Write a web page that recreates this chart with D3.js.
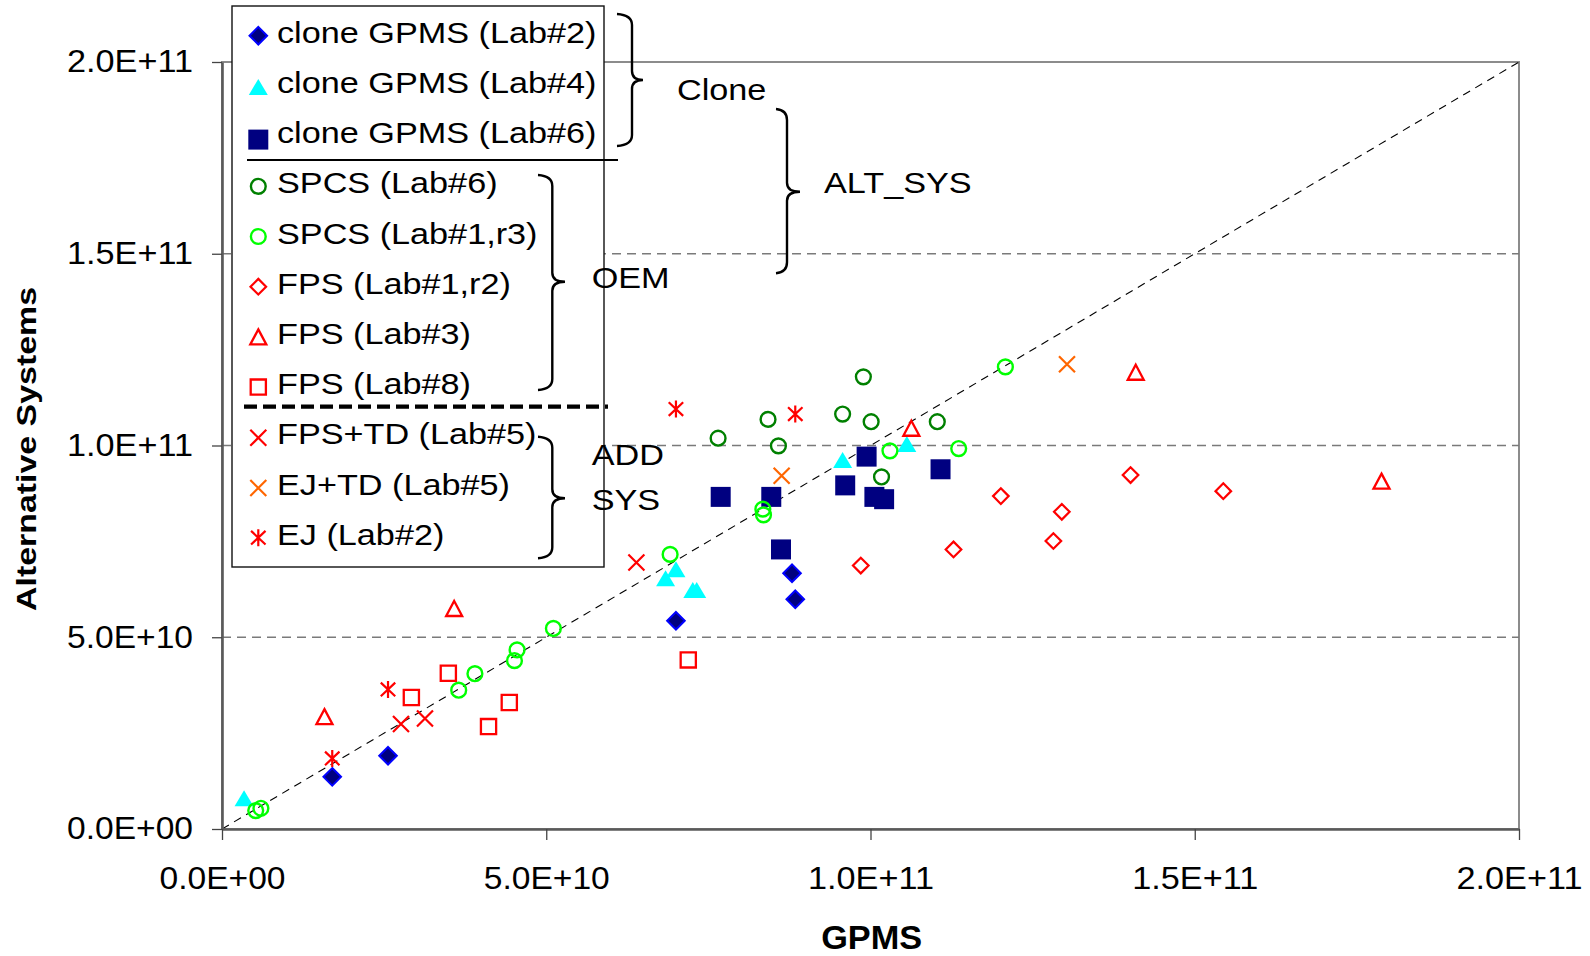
<!DOCTYPE html>
<html>
<head>
<meta charset="utf-8">
<script src="https://cdn.jsdelivr.net/npm/d3@7"></script>
<style>
  html, body { margin: 0; padding: 0; background: #fff; }
  svg { display: block; }
  text { font-family: "Liberation Sans", Arial, sans-serif; fill: #000; }
</style>
</head>
<body>
<svg id="chart" width="1590" height="956"></svg>
<script>
// ---- data: [GPMS, alternative system] pairs ----
const cloneGpmsLab2 = [[1.70e10, 1.36e10], [2.56e10, 1.91e10], [7.00e10, 5.43e10], [8.79e10, 6.67e10], [8.84e10, 5.99e10]];
const cloneGpmsLab4 = [[0.34e10, 0.80e10], [6.84e10, 6.54e10], [7.00e10, 6.77e10], [7.26e10, 6.23e10], [7.32e10, 6.23e10], [9.57e10, 9.62e10], [10.56e10, 10.04e10]];
const cloneGpmsLab6 = [[7.69e10, 8.66e10], [8.47e10, 8.66e10], [8.62e10, 7.29e10], [9.61e10, 8.96e10], [9.94e10, 9.71e10], [10.06e10, 8.66e10], [10.21e10, 8.60e10], [11.08e10, 9.38e10]];
const spcsLab6 = [[7.65e10, 10.19e10], [8.42e10, 10.68e10], [8.58e10, 9.99e10], [9.89e10, 11.79e10], [9.57e10, 10.82e10], [10.01e10, 10.62e10], [11.03e10, 10.62e10], [10.17e10, 9.18e10]];
const spcsLab1r3 = [[0.52e10, 0.48e10], [0.60e10, 0.54e10], [3.65e10, 3.62e10], [3.90e10, 4.05e10], [4.51e10, 4.39e10], [4.55e10, 4.67e10], [5.11e10, 5.23e10], [6.91e10, 7.16e10], [8.34e10, 8.34e10], [8.35e10, 8.19e10], [10.30e10, 9.86e10], [11.36e10, 9.92e10], [12.08e10, 12.05e10]];
const fpsLab1r2 = [[9.85e10, 6.87e10], [11.28e10, 7.29e10], [12.01e10, 8.68e10], [12.95e10, 8.27e10], [12.82e10, 7.51e10], [14.01e10, 9.23e10], [15.44e10, 8.81e10]];
const fpsLab3 = [[1.58e10, 2.93e10], [3.58e10, 5.75e10], [10.63e10, 10.45e10], [14.09e10, 11.91e10], [17.88e10, 9.07e10]];
const fpsLab8 = [[3.49e10, 4.06e10], [2.92e10, 3.43e10], [4.43e10, 3.30e10], [4.11e10, 2.67e10], [7.19e10, 4.41e10]];
const fpsTdLab5 = [[2.76e10, 2.74e10], [3.13e10, 2.88e10], [6.39e10, 6.95e10]];
const ejTdLab5 = [[8.63e10, 9.21e10], [13.03e10, 12.12e10]];
const ejLab2 = [[1.70e10, 1.84e10], [2.56e10, 3.64e10], [7.00e10, 10.95e10], [8.84e10, 10.82e10]];

const seriesNames = [
  "clone GPMS (Lab#2)", "clone GPMS (Lab#4)", "clone GPMS (Lab#6)",
  "SPCS (Lab#6)", "SPCS (Lab#1,r3)", "FPS (Lab#1,r2)", "FPS (Lab#3)", "FPS (Lab#8)",
  "FPS+TD (Lab#5)", "EJ+TD (Lab#5)", "EJ (Lab#2)"
];
const seriesValues = [
  cloneGpmsLab2, cloneGpmsLab4, cloneGpmsLab6,
  spcsLab6, spcsLab1r3, fpsLab1r2, fpsLab3, fpsLab8,
  fpsTdLab5, ejTdLab5, ejLab2
];

const axisDomain = [0, 2e11];
const tickValues = [0, 5e10, 1e11, 1.5e11, 2e11];
const tickLabels = ["0.0E+00", "5.0E+10", "1.0E+11", "1.5E+11", "2.0E+11"];
const gridValues = [5e10, 1e11, 1.5e11];

// ---- marker shapes (centred on 0,0) ----
const shape = {
  diamond: s => `M0,${-s}L${s},0L0,${s}L${-s},0Z`,
  triangle: (w, h) => `M0,${-h / 2}L${w / 2},${h / 2}L${-w / 2},${h / 2}Z`,
  square: s => `M${-s},${-s}H${s}V${s}H${-s}Z`,
  circle: r => `M${r},0A${r},${r} 0 1,1 ${-r},0A${r},${r} 0 1,1 ${r},0Z`,
  cross: s => `M${-s},${-s}L${s},${s}M${-s},${s}L${s},${-s}`,
  star: s => `M0,${-s}V${s}M${-s * 0.85},${-s * 0.8}L${s * 0.85},${s * 0.8}M${-s * 0.85},${s * 0.8}L${s * 0.85},${-s * 0.8}`
};

const markerStyles = [
  { d: shape.diamond(8.8), fill: "#000080", stroke: "#0000ff", sw: 2, ly: -7 },
  { d: shape.triangle(19, 16), fill: "#00ffff", stroke: "none", sw: 0, ly: -6 },
  { d: shape.square(10), fill: "#000080", stroke: "none", sw: 0, ly: -3.5 },
  { d: shape.circle(7.4), fill: "none", stroke: "#008000", sw: 2.4, ly: -7 },
  { d: shape.circle(7.4), fill: "none", stroke: "#00ff00", sw: 2.4, ly: -7 },
  { d: shape.diamond(7.8), fill: "none", stroke: "#ff0000", sw: 2.2, ly: -7 },
  { d: shape.triangle(16, 15), fill: "none", stroke: "#ff0000", sw: 2.3, ly: -7 },
  { d: shape.square(7.6), fill: "none", stroke: "#ff0000", sw: 2.3, ly: -7 },
  { d: shape.cross(8), fill: "none", stroke: "#ff0000", sw: 2.2, ly: -6.5 },
  { d: shape.cross(8), fill: "none", stroke: "#ff6600", sw: 2.2, ly: -6.5 },
  { d: shape.star(8.5), fill: "none", stroke: "#ff0000", sw: 2.2, ly: -7 }
];

// ---- layout ----
const svg = d3.select("#chart");
const plot = { left: 222, right: 1519, top: 62, bottom: 829 };
const x = d3.scaleLinear().domain(axisDomain).range([plot.left, plot.right]);
const y = d3.scaleLinear().domain(axisDomain).range([plot.bottom, plot.top]);

// plot frame
svg.append("rect")
  .attr("x", plot.left).attr("y", plot.top)
  .attr("width", plot.right - plot.left).attr("height", plot.bottom - plot.top)
  .attr("fill", "#fff").attr("stroke", "#8c8c8c").attr("stroke-width", 2);

// horizontal gridlines
svg.append("g").selectAll("line").data(gridValues).join("line")
  .attr("x1", x(0)).attr("x2", x(2e11))
  .attr("y1", d => y(d)).attr("y2", d => y(d))
  .attr("stroke", "#7a7a7a").attr("stroke-width", 1.6)
  .attr("stroke-dasharray", "9,6");

// y = x reference line
svg.append("line")
  .attr("x1", x(0)).attr("y1", y(0)).attr("x2", x(2e11)).attr("y2", y(2e11))
  .attr("stroke", "#000").attr("stroke-width", 1.1)
  .attr("stroke-dasharray", "8,6");

// axes
const fmt = d => tickLabels[tickValues.indexOf(d)];
const yAxis = svg.append("g").attr("transform", `translate(${plot.left},0)`)
  .call(d3.axisLeft(y).tickValues(tickValues).tickFormat(fmt).tickSizeInner(10).tickSizeOuter(0).tickPadding(19));
const xAxis = svg.append("g").attr("transform", `translate(0,${plot.bottom})`)
  .call(d3.axisBottom(x).tickValues(tickValues).tickFormat(fmt).tickSizeInner(11).tickSizeOuter(0).tickPadding(27));
[xAxis, yAxis].forEach(g => {
  g.select(".domain").attr("stroke", "#5a5a5a").attr("stroke-width", 2.6);
  g.selectAll(".tick line").attr("stroke", "#444").attr("stroke-width", 1.3);
  g.selectAll(".tick text")
    .attr("font-size", 31).attr("font-family", "Liberation Sans, Arial, sans-serif")
    .attr("fill", "#000")
    .attr("textLength", 126).attr("lengthAdjust", "spacingAndGlyphs");
});

// axis titles
svg.append("text")
  .attr("x", 871.7).attr("y", 948.5)
  .attr("text-anchor", "middle").attr("font-weight", "bold").attr("font-size", 33)
  .attr("textLength", 101).attr("lengthAdjust", "spacingAndGlyphs")
  .text("GPMS");
svg.append("text")
  .attr("transform", "translate(36,449) rotate(-90)")
  .attr("text-anchor", "middle").attr("font-weight", "bold").attr("font-size", 27)
  .attr("textLength", 324).attr("lengthAdjust", "spacingAndGlyphs")
  .text("Alternative Systems");

// data markers, one group per series
const seriesGroups = svg.append("g").selectAll("g")
  .data(seriesValues.map((vals, i) => ({ vals, style: markerStyles[i] })))
  .join("g");
seriesGroups.selectAll("path")
  .data(s => s.vals.map(v => ({ v, style: s.style })))
  .join("path")
  .attr("transform", d => `translate(${x(d.v[0])},${y(d.v[1])})`)
  .attr("d", d => d.style.d)
  .attr("fill", d => d.style.fill)
  .attr("stroke", d => d.style.stroke)
  .attr("stroke-width", d => d.style.sw)
  .attr("stroke-linejoin", "miter");

// ---- legend ----
const legend = svg.append("g");
legend.append("rect")
  .attr("x", 232).attr("y", 6).attr("width", 372).attr("height", 561)
  .attr("fill", "#fff").attr("stroke", "#111").attr("stroke-width", 1.4);

const rowBase = 42.7, rowStep = 50.2;
const rows = legend.selectAll("g.row")
  .data(seriesNames.map((name, i) => ({ name, style: markerStyles[i], i })))
  .join("g").attr("class", "row");
rows.append("path")
  .attr("transform", d => `translate(258.3,${rowBase + d.i * rowStep + d.style.ly})`)
  .attr("d", d => d.style.d)
  .attr("fill", d => d.style.fill)
  .attr("stroke", d => d.style.stroke)
  .attr("stroke-width", d => d.style.sw);
rows.append("text")
  .attr("transform", d => `translate(277,${rowBase + d.i * rowStep}) scale(1.18,1)`)
  .attr("font-size", 29)
  .text(d => d.name);

// separators between groups
legend.append("line")
  .attr("x1", 247).attr("x2", 618).attr("y1", 160).attr("y2", 160)
  .attr("stroke", "#000").attr("stroke-width", 2);
legend.append("line")
  .attr("x1", 244).attr("x2", 608).attr("y1", 406.7).attr("y2", 406.7)
  .attr("stroke", "#000").attr("stroke-width", 4.2)
  .attr("stroke-dasharray", "13,6");

// curly braces grouping the legend rows
function brace(x0, xv, xt, y0, yt, y1) {
  const r = 11, rt = 9;
  return `M${x0},${y0}Q${xv},${y0 + 1} ${xv},${y0 + r}` +
    `L${xv},${yt - rt}Q${xv},${yt} ${xt},${yt}` +
    `Q${xv},${yt} ${xv},${yt + rt}` +
    `L${xv},${y1 - r}Q${xv},${y1 - 1} ${x0},${y1}`;
}
const braces = [
  [617, 632, 643, 14, 80, 146],
  [776, 787, 800, 109, 191.7, 273.3],
  [538, 552.3, 565, 175, 281.7, 390],
  [538, 552.3, 565, 436.7, 498.3, 558.3]
];
svg.append("g").selectAll("path").data(braces).join("path")
  .attr("d", b => brace(...b))
  .attr("fill", "none").attr("stroke", "#000").attr("stroke-width", 2.4);

// group names
const groupLabels = [
  { t: "Clone", x: 677, y: 100 },
  { t: "ALT_SYS", x: 824, y: 193.3 },
  { t: "OEM", x: 591.7, y: 288.3 },
  { t: "ADD", x: 591.7, y: 465 },
  { t: "SYS", x: 591.7, y: 510 }
];
svg.append("g").selectAll("text").data(groupLabels).join("text")
  .attr("transform", d => `translate(${d.x},${d.y}) scale(1.18,1)`)
  .attr("font-size", 29)
  .text(d => d.t);
</script>
</body>
</html>
